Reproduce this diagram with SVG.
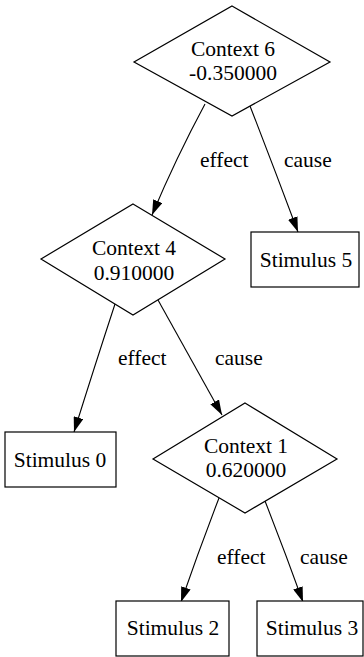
<svg xmlns="http://www.w3.org/2000/svg" width="364" height="657" viewBox="0 0 364 657">
<style>
.n{fill:#fff;stroke:#000;stroke-width:1.2}
.t{font-family:"Liberation Serif","Times New Roman",serif;font-size:21.5px;fill:#000}
.m{text-anchor:middle}
.e{stroke:#000;stroke-width:1.1;fill:none;marker-end:url(#ah)}
</style>
<defs>
<marker id="ah" markerUnits="userSpaceOnUse" markerWidth="15" markerHeight="10" viewBox="0 0 15 10" refX="15" refY="5" orient="auto">
<path d="M0,0 L15,5 L0,10 z" fill="#000"/>
</marker>
</defs>
<rect width="364" height="657" fill="#fff"/>
<g id="edges">
<path class="e" d="M205,104 Q176,158 152,215"/>
<path class="e" d="M250,106 Q274,168 298,232"/>
<path class="e" d="M115,304 Q95,365 74,432"/>
<path class="e" d="M158,300 Q190,358 222,415"/>
<path class="e" d="M219,498 Q199,550 181,602"/>
<path class="e" d="M265,501 Q285,552 303,602"/>
<text class="t" x="200" y="167">effect</text>
<text class="t" x="284" y="167">cause</text>
<text class="t" x="118" y="365">effect</text>
<text class="t" x="215" y="365">cause</text>
<text class="t" x="217" y="564">effect</text>
<text class="t" x="300" y="564">cause</text>
</g>
<g id="context6">
<polygon class="n" points="232,6 330,62 232,116 134,62"/>
<text class="t m" x="233" y="56">Context 6</text>
<text class="t m" x="233" y="80">-0.350000</text>
</g>
<g id="context4">
<polygon class="n" points="133,204 225,259 133,315 41,259"/>
<text class="t m" x="134" y="255">Context 4</text>
<text class="t m" x="134" y="280">0.910000</text>
</g>
<g id="stimulus5">
<rect class="n" x="251" y="232" width="108" height="55"/>
<text class="t m" x="306" y="267">Stimulus 5</text>
</g>
<g id="stimulus0">
<rect class="n" x="5" y="432" width="111" height="55"/>
<text class="t m" x="60" y="467">Stimulus 0</text>
</g>
<g id="context1">
<polygon class="n" points="245,403 337,459 245,513 153,459"/>
<text class="t m" x="246" y="453">Context 1</text>
<text class="t m" x="246" y="477">0.620000</text>
</g>
<g id="stimulus2">
<rect class="n" x="116" y="601" width="113" height="55"/>
<text class="t m" x="173" y="635">Stimulus 2</text>
</g>
<g id="stimulus3">
<rect class="n" x="257" y="601" width="106" height="55"/>
<text class="t m" x="312" y="635">Stimulus 3</text>
</g>
</svg>
